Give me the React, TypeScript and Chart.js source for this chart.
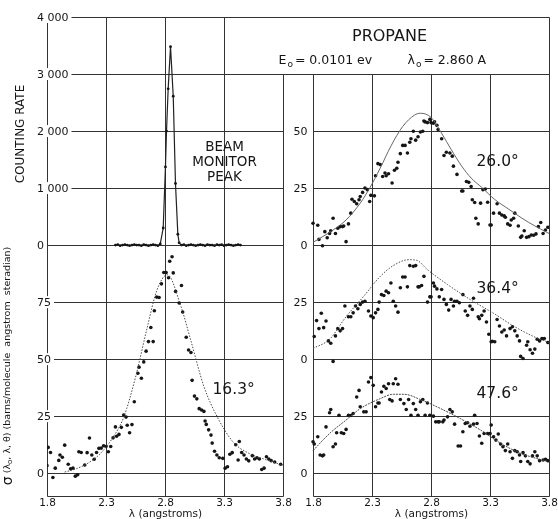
import React, { useEffect, useRef } from "react";
import { Chart, registerables } from "chart.js";
Chart.register(...registerables);

// ---- layout of the combined x axis (left panel, gap, right panel) ----
const GAP = 2.255;
const xL = (l: number) => l - 1.8;
const xR = (l: number) => l - 1.8 + GAP;

// ---- axis ticks ----
const xTicks = [1.8, 2.3, 2.8, 3.3, 3.8];
const xTickLabels = ["1.8", "2.3", "2.8", "3.3", "3.8"];
const yTicksLeft = [0, 25, 50, 75, 100, 125, 150, 175, 200];
const yLabelsLeft = ["0", "25", "50", "75", "0", "1 000", "2 000", "3 000", "4 000"];
const yTicksRight = [0, 25, 50, 75, 100, 125, 150];
const yLabelsRight = ["0", "25", "0", "25", "0", "25", "50"];

// ---- beam monitor peak (counting rate) ----
const beamLambda = [2.38, 2.40, 2.42, 2.44, 2.46, 2.48, 2.50, 2.52, 2.54, 2.56, 2.58, 2.60, 2.62, 2.64, 2.66, 2.68, 2.70, 2.72, 2.74, 2.76,
  2.785, 2.804, 2.813, 2.827, 2.847, 2.870, 2.889, 2.909,
  2.92, 2.94, 2.96, 2.98, 3.00, 3.02, 3.04, 3.06, 3.08, 3.10, 3.12, 3.14, 3.16, 3.18, 3.20, 3.22, 3.24, 3.26, 3.28, 3.30, 3.32, 3.34, 3.36, 3.38, 3.40, 3.42, 3.44];
const beamCounts = [0, 10, -10, 0, 10, 0, -10, 0, 10, 0, 0, -10, 10, 0, -10, 0, 10, 0, -10, 20,
  300, 1370, 2000, 2740, 3480, 2610, 1080, 190,
  40, 0, 10, -10, 0, 10, 0, -10, 0, 10, 0, -10, 10, 0, 0, -10, 10, 0, 10, -10, 0, 10, 0, -10, 0, 10, 0];

// ---- 16.3 deg ----
const l163 = [1.80, 1.81, 1.83, 1.85, 1.87, 1.90, 1.91, 1.93, 1.95, 1.98, 2.00, 2.02, 2.04, 2.06, 2.07, 2.09, 2.12, 2.14, 2.16, 2.18, 2.20, 2.22, 2.24, 2.26, 2.28, 2.30, 2.32, 2.34, 2.36, 2.38, 2.39, 2.41, 2.43, 2.45, 2.47, 2.48, 2.50, 2.52, 2.54, 2.57, 2.58, 2.60, 2.62, 2.64, 2.66, 2.68, 2.70, 2.71, 2.73, 2.75, 2.77, 2.79, 2.81, 2.83, 2.84, 2.86, 2.87, 2.89, 2.92, 2.94, 2.95, 2.98, 3.00, 3.02, 3.03, 3.05, 3.07, 3.09, 3.11, 3.13, 3.14, 3.15, 3.17, 3.19, 3.20, 3.22, 3.24, 3.26, 3.29, 3.31, 3.33, 3.35, 3.37, 3.40, 3.42, 3.43, 3.45, 3.47, 3.49, 3.51, 3.54, 3.56, 3.58, 3.60, 3.62, 3.64, 3.66, 3.68, 3.70, 3.73, 3.78];
const s163 = [3.3, 11.3, 9.1, -1.9, 2.2, 5.6, 8, 7, 12.3, 3.9, 1.9, 2.2, -1.3, -0.7, 9.4, 9.1, 3.6, 9, 15.4, 8, 6.1, 9.1, 10.9, 11, 12, 11.7, 9.4, 11.7, 15.5, 20.3, 16.2, 17, 20.1, 25.5, 24.6, 21, 17.7, 21.3, 31.3, 43.8, 46.5, 41.6, 48.8, 53.5, 57.7, 63.9, 57.7, 71.2, 77.2, 77, 83, 88, 88, 85.7, 92.9, 94.9, 87.8, 79.7, 74.6, 82.3, 70.7, 59.6, 54, 52.9, 40.7, 33.8, 32.6, 28.3, 27.7, 27.1, 22.9, 21.4, 19, 16.7, 13.2, 9.6, 8, 6.8, 6.5, 2.2, 2.8, 8.3, 9, 12.5, 5.8, 13.9, 9.1, 8, 6.2, 5.4, 7.7, 6.2, 6.8, 6.2, 1.6, 2.2, 7.2, 6.2, 5.5, 4.9, 3.9];
const fitL163 = [1.95, 2.05, 2.15, 2.25, 2.35, 2.45, 2.55, 2.65, 2.73, 2.82, 2.93, 3.02, 3.13, 3.24, 3.38, 3.5, 3.65, 3.8];
const fitS163 = [0.5, 2, 4.5, 8.5, 15, 24.5, 42, 64, 80, 87, 74, 58, 38, 25, 13.5, 9, 6, 3.5];

// ---- 26.0 deg ----
const l260 = [1.80, 1.84, 1.85, 1.88, 1.90, 1.92, 1.94, 1.95, 1.97, 1.99, 2.01, 2.03, 2.05, 2.06, 2.08, 2.10, 2.12, 2.13, 2.15, 2.17, 2.19, 2.20, 2.22, 2.24, 2.26, 2.28, 2.29, 2.32, 2.33, 2.35, 2.37, 2.39, 2.41, 2.42, 2.44, 2.47, 2.49, 2.51, 2.52, 2.54, 2.56, 2.58, 2.60, 2.62, 2.63, 2.65, 2.67, 2.69, 2.71, 2.73, 2.74, 2.75, 2.77, 2.79, 2.80, 2.82, 2.83, 2.85, 2.86, 2.89, 2.91, 2.93, 2.96, 2.98, 2.99, 3.02, 3.06, 3.07, 3.10, 3.12, 3.14, 3.15, 3.17, 3.18, 3.20, 3.22, 3.24, 3.26, 3.28, 3.30, 3.31, 3.33, 3.36, 3.38, 3.40, 3.42, 3.43, 3.45, 3.47, 3.48, 3.50, 3.51, 3.54, 3.56, 3.57, 3.59, 3.61, 3.63, 3.65, 3.67, 3.69, 3.71, 3.73, 3.75, 3.77, 3.79];
const s260 = [9.6, 8.7, 2.5, -0.3, 5.9, 3.2, 5.1, 6.3, 11.8, 5.1, 7.4, 8.1, 8.1, 8.4, 1.5, 9.3, 14, 20.1, 19.1, 18.1, 19.9, 21.3, 23.1, 25, 24.3, 19.1, 21.8, 21.6, 30.4, 35.7, 35.3, 30.1, 31.6, 30.4, 31.3, 27.2, 32.8, 33.7, 36.3, 40.1, 43.7, 43.7, 40.4, 45.1, 46.6, 49.9, 46, 47.5, 49.6, 49.9, 54.4, 54, 53.7, 55.1, 53.7, 53.4, 54.1, 52.5, 50.7, 46.6, 39.3, 40.7, 40.4, 39, 34.6, 31, 23.7, 23.7, 27.9, 27.5, 25.7, 19.9, 18.7, 11.8, 9.3, 18.4, 24.3, 24.6, 18.8, 8.8, 8.8, 14, 18.1, 14, 13.2, 12.8, 12.2, 9.3, 8.7, 11, 11.8, 14, 8.4, 3.4, 4, 6.3, 3.4, 3.7, 4.4, 4.3, 4.9, 8.1, 9.9, 5.1, 6.6, 7.8];
const fitL260 = [1.80, 1.97, 2.08, 2.20, 2.28, 2.37, 2.46, 2.56, 2.66, 2.71, 2.80, 2.89, 2.97, 3.06, 3.14, 3.23, 3.34, 3.46, 3.57, 3.68, 3.80];
const fitS260 = [1.2, 6.6, 11, 18.4, 25, 33.8, 43.4, 52, 57, 57.8, 56, 49, 42, 34.6, 29.4, 25.3, 20, 15.7, 11.8, 8.4, 5.1];

// ---- 36.4 deg ----
const l364 = [1.81, 1.83, 1.85, 1.87, 1.89, 1.91, 1.93, 1.95, 1.97, 1.99, 2.01, 2.03, 2.05, 2.07, 2.10, 2.12, 2.14, 2.16, 2.18, 2.20, 2.22, 2.24, 2.27, 2.29, 2.31, 2.33, 2.35, 2.36, 2.38, 2.40, 2.42, 2.44, 2.46, 2.48, 2.50, 2.52, 2.54, 2.56, 2.58, 2.60, 2.62, 2.65, 2.67, 2.69, 2.70, 2.72, 2.74, 2.77, 2.79, 2.80, 2.82, 2.83, 2.85, 2.87, 2.89, 2.91, 2.93, 2.95, 2.97, 2.99, 3.00, 3.02, 3.04, 3.07, 3.09, 3.11, 3.13, 3.15, 3.16, 3.20, 3.21, 3.23, 3.25, 3.27, 3.29, 3.31, 3.32, 3.34, 3.36, 3.38, 3.40, 3.42, 3.44, 3.47, 3.49, 3.51, 3.53, 3.55, 3.56, 3.58, 3.61, 3.62, 3.64, 3.66, 3.68, 3.70, 3.72, 3.74, 3.76, 3.79];
const s364 = [9.9, 16.9, 13.4, 20.1, 13.8, 16.7, 8, 7, -1, 10.2, 13.4, 12.4, 13.4, 23.3, 18.6, 18.6, 20.3, 23.3, 22.1, 24, 25, 25.4, 21.1, 18.9, 18.2, 20.3, 21.8, 25, 28.3, 27.9, 29.8, 29.1, 33.4, 25.4, 23.3, 20.6, 31.3, 36, 36, 31.7, 41, 40.7, 41, 31.7, 31.7, 32.3, 36.3, 25, 27.3, 27.3, 33.4, 32, 30.8, 27.3, 30.5, 26.2, 24, 21.5, 26.2, 23.3, 25.4, 25.4, 24.7, 28.3, 21.1, 19.2, 23.3, 21.8, 26.7, 18.6, 17.7, 19.2, 21.1, 16.3, 10.9, 7.6, 7.8, 7.6, 17.4, 14.5, 11.9, 12.8, 10.2, 13.4, 14.2, 12.4, 10.2, 8, 1.2, 0.3, 6.1, 7.6, 4.1, 2.6, 4.4, 8.7, 8, 9, 9, 7.3];
const fitL364 = [1.80, 1.94, 2.08, 2.23, 2.37, 2.48, 2.61, 2.68, 2.77, 2.94, 3.13, 3.33, 3.50, 3.67, 3.80];
const fitS364 = [4.7, 8.7, 18.6, 27.6, 36.3, 41, 43.6, 43.3, 39.2, 32.7, 26.2, 20.1, 14.5, 9.9, 7.3];

// ---- 47.6 deg ----
const l476 = [1.80, 1.81, 1.84, 1.86, 1.88, 1.89, 1.91, 1.94, 1.95, 1.97, 1.99, 2.00, 2.02, 2.04, 2.06, 2.08, 2.10, 2.12, 2.14, 2.17, 2.19, 2.20, 2.23, 2.25, 2.27, 2.29, 2.31, 2.33, 2.35, 2.36, 2.38, 2.40, 2.42, 2.44, 2.45, 2.47, 2.48, 2.50, 2.52, 2.54, 2.57, 2.59, 2.61, 2.63, 2.65, 2.67, 2.69, 2.71, 2.73, 2.75, 2.77, 2.79, 2.82, 2.84, 2.86, 2.87, 2.90, 2.91, 2.94, 2.96, 2.98, 3.00, 3.03, 3.05, 3.07, 3.09, 3.11, 3.13, 3.16, 3.17, 3.19, 3.21, 3.23, 3.25, 3.28, 3.30, 3.31, 3.33, 3.35, 3.37, 3.39, 3.41, 3.43, 3.45, 3.47, 3.49, 3.51, 3.53, 3.55, 3.56, 3.58, 3.60, 3.62, 3.64, 3.66, 3.68, 3.70, 3.72, 3.75, 3.77, 3.79];
const s476 = [13.8, 12.8, 16, 8, 7.6, 8, 20.3, 26.5, 27.9, 11.6, 12.8, 17.7, 25.4, 17.7, 17.4, 19.2, 25.4, 25.3, 26.2, 33.4, 36.3, 29.1, 26.9, 26.9, 40, 41.9, 38.5, 29.1, 30.8, 30.8, 35.6, 38.1, 37.1, 39.2, 32.3, 31.7, 39.2, 41.4, 39, 32.3, 30.5, 27.9, 32.3, 25.4, 30.5, 27.9, 25.4, 31.3, 32.3, 25.4, 30.8, 25.4, 25, 22.5, 22.5, 22.5, 22.5, 23.3, 24.7, 27.9, 26.9, 21.5, 11.9, 11.9, 18.2, 21.8, 22.1, 20.6, 21.5, 25.4, 21.8, 16.3, 13.1, 17.4, 17.4, 17.4, 21.1, 16, 14.5, 17.2, 12.8, 11.6, 9.9, 12.8, 9.4, 6.5, 9.9, 9.4, 8, 5.1, 9, 7.6, 5.1, 4.1, 7.6, 9.4, 7.6, 5.5, 5.8, 6.1, 5.5];
const fitL476 = [1.80, 1.94, 2.08, 2.20, 2.37, 2.48, 2.57, 2.71, 2.85, 3.02, 3.22, 3.39, 3.56, 3.79];
const fitS476 = [9.9, 17.4, 23.3, 28.3, 32.7, 34.6, 34.6, 32.3, 29.1, 24.7, 18.9, 13.1, 8.7, 5.1];

// vertical offsets of the stacked curves in the right panel
const OFF260 = 100;
const OFF364 = 50;
const OFF476 = 0;

const FONT = '"DejaVu Sans", sans-serif';
const INK = "#151515";

const pts = (ls: number[], vs: number[], fx: (l: number) => number, off: number) =>
  ls.map((l, i) => ({ x: fx(l), y: vs[i] + off }));

const framePlugin = {
  id: "frame",
  beforeDatasetsDraw(chart: any) {
    const ctx = chart.ctx as CanvasRenderingContext2D;
    const xs = chart.scales.x;
    const ys = chart.scales.y;
    const PL = (l: number) => Math.round(xs.getPixelForValue(xL(l))) + 0.5;
    const PR = (l: number) => Math.round(xs.getPixelForValue(xR(l))) + 0.5;
    const PY = (v: number) => Math.round(ys.getPixelForValue(v)) + 0.5;
    ctx.save();
    ctx.strokeStyle = "#333";
    ctx.lineWidth = 1;
    const line = (x1: number, y1: number, x2: number, y2: number) => {
      ctx.beginPath();
      ctx.moveTo(x1, y1);
      ctx.lineTo(x2, y2);
      ctx.stroke();
    };
    for (const v of yTicksLeft) {
      if (v >= 175) line(PL(1.8), PY(v), PR(3.8), PY(v));
      else line(PL(1.8), PY(v), PL(3.8), PY(v));
    }
    for (const v of yTicksRight) line(PR(1.8), PY(v), PR(3.8), PY(v));
    line(PL(1.8), PY(-10), PL(3.8), PY(-10));
    line(PR(1.8), PY(-10), PR(3.8), PY(-10));
    for (const l of xTicks) {
      line(PL(l), l === 3.8 ? PY(175) : PY(200), PL(l), PY(-10));
      line(PR(l), l === 3.8 ? PY(200) : PY(175), PR(l), PY(-10));
    }

    ctx.fillStyle = INK;
    // left y labels (drawn over the axis with a white ground)
    ctx.font = `11px ${FONT}`;
    ctx.textBaseline = "middle";
    ctx.textAlign = "left";
    yTicksLeft.forEach((v, i) => {
      const t = yLabelsLeft[i];
      const w = ctx.measureText(t).width;
      const y = ys.getPixelForValue(v);
      ctx.fillStyle = "#fff";
      ctx.fillRect(35, y - 6, w + 5, 12);
      ctx.fillStyle = INK;
      ctx.fillText(t, 37, y + 1);
    });
    // right y labels
    ctx.textAlign = "right";
    yTicksRight.forEach((v, i) => {
      ctx.fillText(yLabelsRight[i], PR(1.8) - 6, ys.getPixelForValue(v) + 1);
    });
    // x tick labels
    ctx.textAlign = "center";
    ctx.font = `10.5px ${FONT}`;
    const yb = ys.getPixelForValue(-10);
    xTicks.forEach((l, i) => {
      ctx.fillText(xTickLabels[i], PL(l), yb + 7);
      ctx.fillText(xTickLabels[i], PR(l), yb + 7);
    });
    ctx.font = `10.5px ${FONT}`;
    ctx.fillText("λ (angstroms)", PL(2.8), yb + 18);
    ctx.fillText("λ (angstroms)", PR(2.8), yb + 18);

    // rotated axis titles
    ctx.save();
    ctx.translate(21, ys.getPixelForValue(148.7));
    ctx.rotate(-Math.PI / 2);
    ctx.font = `12px ${FONT}`;
    ctx.textAlign = "center";
    ctx.fillText("COUNTING RATE", 0, 0);
    ctx.restore();

    ctx.save();
    ctx.translate(8, ys.getPixelForValue(47));
    ctx.rotate(-Math.PI / 2);
    ctx.textAlign = "left";
    const parts: [string, string, number][] = [
      ["σ", `14px ${FONT}`, 0],
      [" (λ", `9.5px ${FONT}`, 0],
      ["o", `7px ${FONT}`, 2.5],
      [", λ, θ) (barns/molecule  angstrom  steradian)", `9.5px ${FONT}`, 0],
    ];
    let total = 0;
    for (const p of parts) { ctx.font = p[1]; total += ctx.measureText(p[0]).width; }
    let px = -total / 2;
    for (const p of parts) {
      ctx.font = p[1];
      ctx.fillText(p[0], px, p[2]);
      px += ctx.measureText(p[0]).width;
    }
    ctx.restore();

    // header
    ctx.textAlign = "center";
    ctx.font = `16px ${FONT}`;
    ctx.fillText("PROPANE", PR(2.447), ys.getPixelForValue(191.2));
    const drawSub = (x: number, y: number, a: string, sub: string, b: string) => {
      ctx.textAlign = "left";
      ctx.font = `12.5px ${FONT}`;
      ctx.fillText(a, x, y);
      let cx = x + ctx.measureText(a).width + 1;
      ctx.font = `9px ${FONT}`;
      ctx.fillText(sub, cx, y + 4);
      cx += ctx.measureText(sub).width + 2;
      ctx.font = `12.5px ${FONT}`;
      ctx.fillText(b, cx, y);
    };
    const yh = ys.getPixelForValue(180.7);
    drawSub(PL(3.76), yh, "E", "o", "= 0.0101 ev");
    drawSub(PR(2.6), yh, "λ", "o", "= 2.860 A");

    // annotations
    ctx.textAlign = "center";
    ctx.font = `13.5px ${FONT}`;
    ctx.fillText("BEAM", PL(3.3), ys.getPixelForValue(143));
    ctx.fillText("MONITOR", PL(3.3), ys.getPixelForValue(136.2));
    ctx.fillText("PEAK", PL(3.3), ys.getPixelForValue(129.6));
    ctx.textAlign = "left";
    ctx.font = `15.5px ${FONT}`;
    ctx.fillText("16.3°", PL(3.2), ys.getPixelForValue(36.5));
    ctx.fillText("26.0°", PR(3.18), ys.getPixelForValue(136.4));
    ctx.fillText("36.4°", PR(3.18), ys.getPixelForValue(80.8));
    ctx.fillText("47.6°", PR(3.18), ys.getPixelForValue(34.7));
    ctx.restore();
  },
};

export default function App() {
  const ref = useRef<HTMLCanvasElement>(null);
  useEffect(() => {
    const canvas = ref.current!;
    const dot = { showLine: false, pointRadius: 1.8, pointBackgroundColor: INK, pointBorderWidth: 0, pointBorderColor: INK };
    const fit = {
      showLine: true, pointRadius: 0, borderColor: "#4a4a4a", borderWidth: 1,
      borderDash: [1.5, 1.5], cubicInterpolationMode: "monotone" as const,
    };
    const datasets: any[] = [
      { ...fit, data: pts(fitL163, fitS163, xL, 0) },
      { ...dot, data: pts(l163, s163, xL, 0) },
      {
        showLine: true, borderColor: "#222", borderWidth: 1.2, pointRadius: 1.4,
        pointBackgroundColor: INK, pointBorderWidth: 0,
        data: beamLambda.map((l, i) => ({ x: xL(l), y: 100 + beamCounts[i] / 40 })),
      },
      { ...fit, borderDash: [], borderColor: "#666", data: pts(fitL260, fitS260, xR, OFF260) },
      { ...dot, data: pts(l260, s260, xR, OFF260) },
      { ...fit, data: pts(fitL364, fitS364, xR, OFF364) },
      { ...dot, data: pts(l364, s364, xR, OFF364) },
      { ...fit, borderDash: [2, 1], data: pts(fitL476, fitS476, xR, OFF476) },
      { ...dot, data: pts(l476, s476, xR, OFF476) },
    ];
    const chart = new Chart(canvas, {
      type: "scatter",
      data: { datasets },
      options: {
        responsive: false,
        animation: false,
        devicePixelRatio: 1,
        events: [],
        layout: { padding: { left: 47, right: 9, top: 17, bottom: 23 } },
        scales: {
          x: { type: "linear", min: 0, max: GAP + 2, display: false },
          y: { type: "linear", min: -10, max: 200, display: false },
        },
        plugins: { legend: { display: false }, tooltip: { enabled: false } },
      },
      plugins: [framePlugin],
    } as any);
    return () => chart.destroy();
  }, []);
  return (
    <div style={{ position: "absolute", left: 0, top: 0, width: 558, height: 519, background: "#fff" }}>
      <canvas ref={ref} width={558} height={519} style={{ display: "block" }} />
    </div>
  );
}
